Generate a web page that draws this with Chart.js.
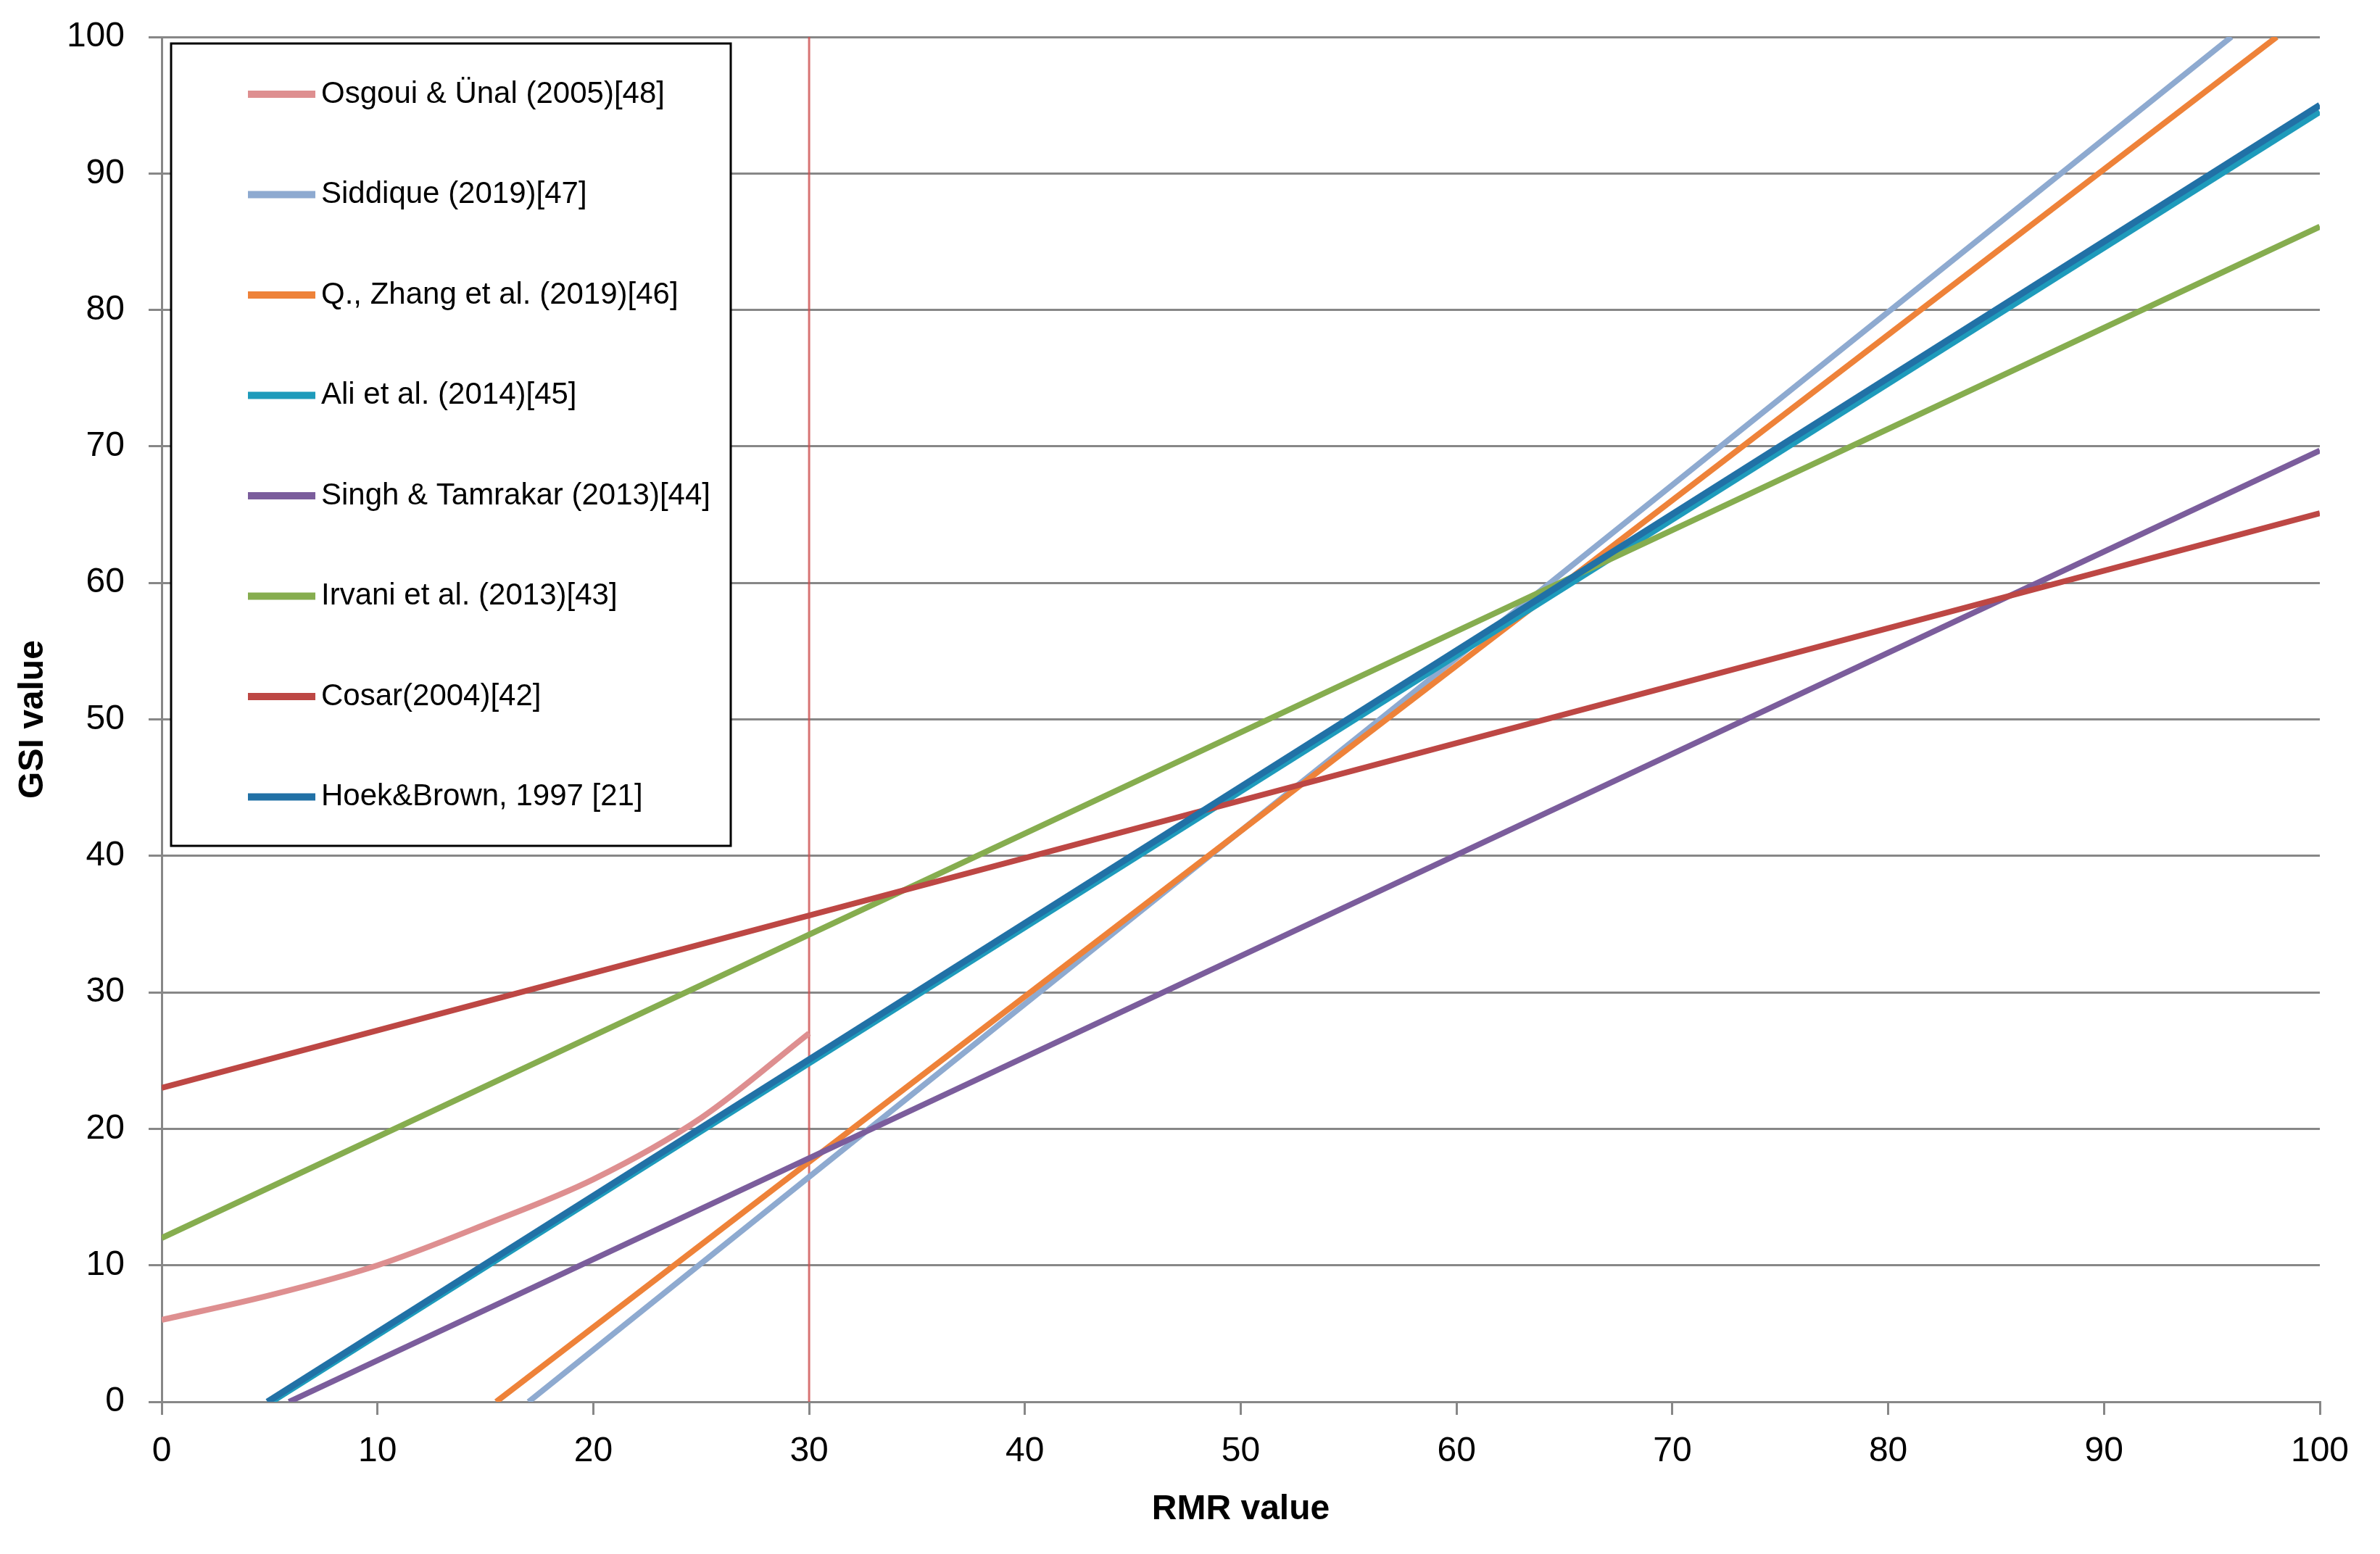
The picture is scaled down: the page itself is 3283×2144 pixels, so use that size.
<!DOCTYPE html>
<html>
<head>
<meta charset="utf-8">
<script src="https://cdn.jsdelivr.net/npm/chart.js@4.4.0/dist/chart.umd.min.js"></script>
<style>
  body { margin: 0; background: #fff; }
  canvas { display: block; }
</style>
</head>
<body>
<canvas id="myChart" width="3283" height="2144"></canvas>
<script>
// series: x = RMR, y = GSI
var osgouiX = [0, 5, 10, 15, 20, 25, 30];
var osgouiY = [6, 7.8, 10, 13, 16.3, 20.8, 27];

var siddiqueX = [17, 95.9];
var siddiqueY = [0, 100];

var zhangX = [15.5, 98];
var zhangY = [0, 100];

var aliX = [5.1, 100];
var aliY = [0, 94.5];

var singhX = [5.9, 100];
var singhY = [0, 69.7];

var irvaniX = [0, 100];
var irvaniY = [12, 86.1];

var cosarX = [0, 100];
var cosarY = [23, 65.1];

var hoekX = [4.9, 100];
var hoekY = [0, 95];

var markerX = [30, 30];
var markerY = [0, 100];

var labels = [
  "Osgoui & Ünal (2005)[48]",
  "Siddique (2019)[47]",
  "Q., Zhang et al. (2019)[46]",
  "Ali et al. (2014)[45]",
  "Singh & Tamrakar (2013)[44]",
  "Irvani et al. (2013)[43]",
  "Cosar(2004)[42]",
  "Hoek&Brown, 1997 [21]",
];
var colors = ["#de8f90", "#8eaad0", "#ee8239", "#1e9bbb", "#7b5d9c", "#86ad4f", "#bd4744", "#2171a6"];
var widths = [8, 8, 8, 8, 8, 8, 8, 9];
var xs = [osgouiX, siddiqueX, zhangX, aliX, singhX, irvaniX, cosarX, hoekX];
var ys = [osgouiY, siddiqueY, zhangY, aliY, singhY, irvaniY, cosarY, hoekY];

var xTicks = [0, 10, 20, 30, 40, 50, 60, 70, 80, 90, 100];
var yTicks = [0, 10, 20, 30, 40, 50, 60, 70, 80, 90, 100];

function pts(x, y) {
  return x.map(function (v, i) { return { x: v, y: y[i] }; });
}

var datasets = labels.map(function (name, i) {
  return {
    label: name,
    data: pts(xs[i], ys[i]),
    borderColor: colors[i],
    backgroundColor: colors[i],
    borderWidth: widths[i],
    pointRadius: 0,
    cubicInterpolationMode: "monotone",
    order: labels.length - i,
  };
});
datasets.push({
  label: "marker",
  data: pts(markerX, markerY),
  borderColor: "rgba(205,80,80,0.8)",
  borderWidth: 3,
  pointRadius: 0,
  order: 20,
});

var FONT = "'Liberation Sans', Arial, sans-serif";
var GRID = "#878787";

// legend box drawn inside the plot, over the grid
var boxLegend = {
  id: "boxLegend",
  beforeDatasetsDraw: function (chart) {
    var c = chart.ctx;
    c.save();
    c.fillStyle = "#fff";
    c.fillRect(236, 60, 772, 1107);
    c.lineWidth = 3;
    c.strokeStyle = "#000";
    c.strokeRect(236, 60, 772, 1107);
    c.font = "42px " + FONT;
    c.textBaseline = "middle";
    c.fillStyle = "#000";
    for (var i = 0; i < labels.length; i++) {
      var y = 130 + i * 138.5;
      c.beginPath();
      c.lineWidth = 10;
      c.strokeStyle = colors[i];
      c.moveTo(342, y);
      c.lineTo(435, y);
      c.stroke();
      c.fillText(labels[i], 443, y);
    }
    c.restore();
  },
};

var ctx = document.getElementById("myChart").getContext("2d");
var myChart = new Chart(ctx, {
  type: "line",
  data: { datasets: datasets },
  options: {
    responsive: false,
    animation: false,
    devicePixelRatio: 1,
    layout: { padding: { top: 51, right: 83, left: 0, bottom: 0 } },
    plugins: {
      legend: { display: false },
      tooltip: { enabled: false },
    },
    scales: {
      x: {
        type: "linear",
        min: 0,
        max: 100,
        afterBuildTicks: function (s) {
          s.ticks = xTicks.map(function (v) { return { value: v }; });
        },
        afterFit: function (s) {
          s.height = 210;
          s.paddingLeft = 0;
          s.paddingRight = 0;
        },
        grid: { drawOnChartArea: false, color: GRID, lineWidth: 3, tickLength: 18 },
        border: { color: GRID, width: 3 },
        ticks: { color: "#000", font: { family: FONT, size: 48 }, padding: 22, maxRotation: 0 },
        title: {
          display: true,
          text: "RMR value",
          color: "#000",
          font: { family: FONT, size: 48, weight: "bold" },
          padding: { top: 0, bottom: 32 },
        },
      },
      y: {
        type: "linear",
        min: 0,
        max: 100,
        afterBuildTicks: function (s) {
          s.ticks = yTicks.map(function (v) { return { value: v }; });
        },
        afterFit: function (s) {
          s.width = 223;
          s.paddingTop = 0;
          s.paddingBottom = 0;
        },
        grid: { color: GRID, lineWidth: 3, tickLength: 18 },
        border: { color: GRID, width: 3 },
        ticks: { color: "#000", font: { family: FONT, size: 48 }, padding: 33 },
        title: {
          display: true,
          text: "GSI value",
          color: "#000",
          font: { family: FONT, size: 48, weight: "bold" },
          padding: { top: 17, bottom: 0 },
        },
      },
    },
  },
  plugins: [boxLegend],
});
</script>
</body>
</html>
